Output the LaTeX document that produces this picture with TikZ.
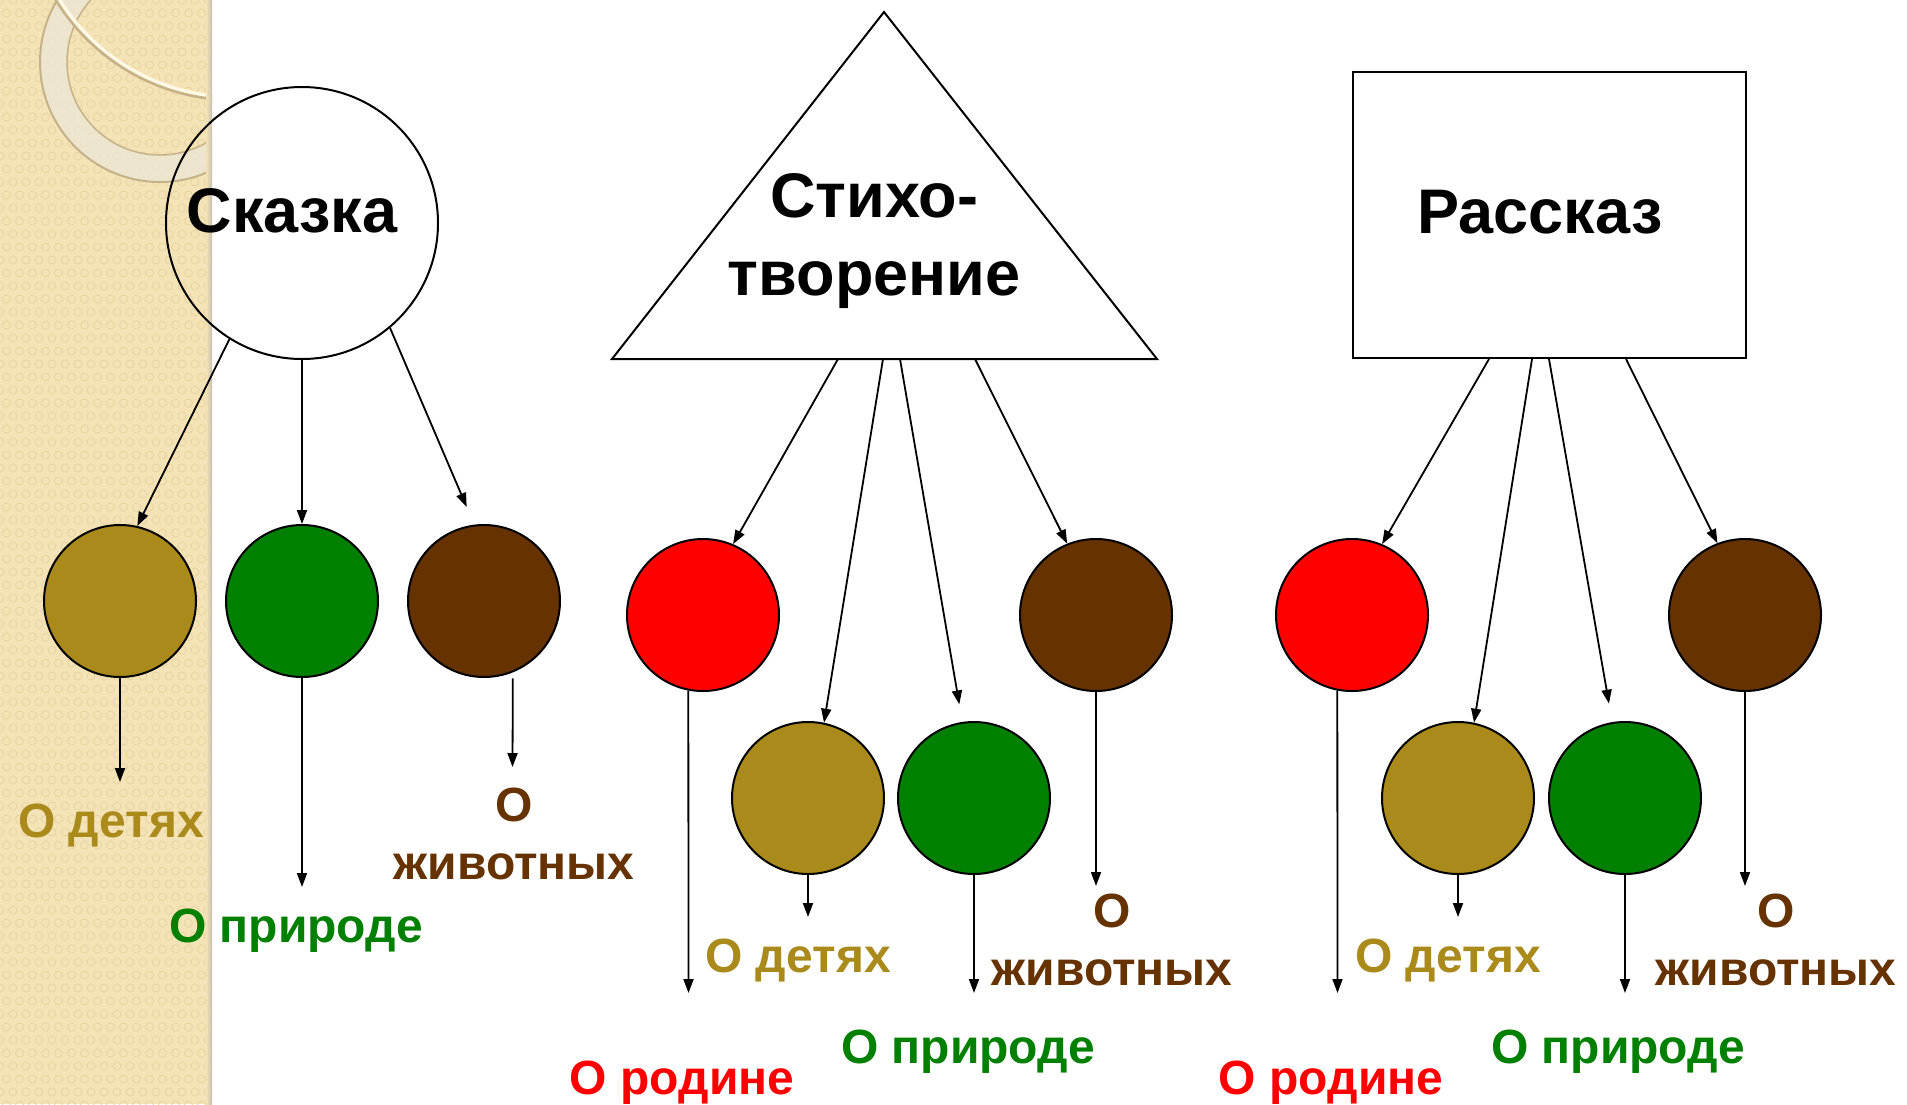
\documentclass[tikz,border=0pt]{standalone}
\usepackage{fontspec}
\setmainfont{Liberation Sans}
\usetikzlibrary{arrows.meta}
\definecolor{cOlive}{RGB}{170,138,26}
\definecolor{cGreen}{RGB}{0,128,0}
\definecolor{cBrown}{RGB}{102,51,0}
\definecolor{cRed}{RGB}{255,0,0}
\definecolor{cBand}{RGB}{244,227,182}
\definecolor{cPat}{RGB}{234,214,164}
\definecolor{cRing}{RGB}{236,231,216}
\definecolor{cRingEdge}{RGB}{198,178,136}
\definecolor{cArc}{RGB}{255,248,228}
\definecolor{cShadow}{RGB}{200,192,172}
\begin{document}
\begin{tikzpicture}[x=1pt,y=-1pt,
  title/.style={font=\fontsize{63}{78}\selectfont\bfseries, align=center, inner sep=0pt},
  lab/.style={font=\fontsize{48}{58}\selectfont\bfseries, align=center, inner sep=0pt},
  dot/.style={circle, draw=black, line width=2pt, minimum size=152pt, inner sep=0pt},
  shapeline/.style={draw=black, line width=2pt},
  arr/.style={line width=1.8pt, -{Triangle[length=14pt,width=10pt]}}]

\useasboundingbox (0,0) rectangle (1907,1104);
\fill[white] (0,0) rectangle (1907,1104);

% decorative left band
\begin{scope}
  \clip (0,0) rectangle (212,1104);
  \fill[cBand] (0,0) rectangle (212,1104);
  \foreach \i in {0,...,17} {
    \foreach \j in {0,...,86} {
      \pgfmathsetmacro{\xx}{\i*13+mod(\j,2)*6.5}
      \draw[cPat, line width=1pt] (\xx,\j*13) circle (4);
    }
  }
  \fill[cRing, opacity=0.75, even odd rule] (160,62) circle (120) (160,62) circle (93);
  \draw[cRingEdge, line width=2pt] (160,62) circle (120);
  \draw[cRingEdge, line width=1.5pt] (160,62) circle (93);
  \draw[cRingEdge, line width=5pt] (235,-110) circle (209);
  \draw[cArc, line width=3.5pt] (235,-110) circle (207);
  \shade[left color=cBand, right color=cShadow] (206,0) rectangle (212,1104);
\end{scope}

% main shapes
\node[circle, shapeline, minimum size=272pt, inner sep=0pt] (skazka) at (302,223) {};
\node[title, anchor=base] (skazkaT) at (292,232) {Сказка};

\coordinate (tA) at (884,12);
\coordinate (tL) at (612,359);
\coordinate (tR) at (1157,359);
\draw[shapeline] (tA) -- (tR) -- (tL) -- cycle;
\node[title, anchor=base] (stihT) at (874,295) {Стихо-\\творение};

\node[rectangle, shapeline, minimum width=393pt, minimum height=286pt, inner sep=0pt] (rasskaz) at (1549.5,215) {};
\node[title, anchor=base] (rasskazT) at (1540,233) {Рассказ};

% coloured circles
\node[dot, fill=cOlive] (o1) at (120,601) {};
\node[dot, fill=cGreen] (g1) at (302,601) {};
\node[dot, fill=cBrown] (b1) at (484,601) {};
\node[dot, fill=cRed] (r2) at (703,615) {};
\node[dot, fill=cOlive] (o2) at (808,798) {};
\node[dot, fill=cGreen] (g2) at (974,798) {};
\node[dot, fill=cBrown] (b2) at (1096,615) {};
\node[dot, fill=cRed] (r3) at (1352,615) {};
\node[dot, fill=cOlive] (o3) at (1458,798) {};
\node[dot, fill=cGreen] (g3) at (1625,798) {};
\node[dot, fill=cBrown] (b3) at (1745,615) {};

% labels (anchor=base is the baseline of the last line)
\node[lab, text=cOlive, anchor=base] (l1) at (111,837) {О детях};
\node[lab, text=cGreen, anchor=base] (l2) at (296,942) {О природе};
\node[lab, text=cBrown, anchor=base] (l3) at (514,879) {О\\животных};
\node[lab, text=cRed, anchor=base] (l4) at (682,1094) {О родине};
\node[lab, text=cOlive, anchor=base] (l5) at (798,972) {О детях};
\node[lab, text=cGreen, anchor=base] (l6) at (968,1063) {О природе};
\node[lab, text=cBrown, anchor=base] (l7) at (1112,985) {О\\животных};
\node[lab, text=cRed, anchor=base] (l8) at (1331,1094) {О родине};
\node[lab, text=cOlive, anchor=base] (l9) at (1448,972) {О детях};
\node[lab, text=cGreen, anchor=base] (l10) at (1618,1063) {О природе};
\node[lab, text=cBrown, anchor=base] (l11) at (1776,985) {О\\животных};

% free arrow ends
\coordinate (e1) at (120,782);
\coordinate (e2) at (302,887);
\coordinate (e3) at (512.5,767);
\coordinate (e4) at (688.5,993);
\coordinate (e5) at (808,917);
\coordinate (e6) at (974,993);
\coordinate (e7) at (1096,886);
\coordinate (e8) at (1337.5,993);
\coordinate (e9) at (1458,917);
\coordinate (e10) at (1625,993);
\coordinate (e11) at (1745,886);

\coordinate (t1) at (838,359);
\coordinate (t2) at (883,359);
\coordinate (t3) at (900,359);
\coordinate (t4) at (975,359);

% arrows from Сказка
\draw[arr] (skazka.238) -- (o1.77);
\draw[arr] (skazka.south) -- (g1.north);
\draw[arr] (skazka.310) -- ([yshift=19pt]b1.103);
% arrows from Стихотворение
\draw[arr] (t1) -- (r2.67);
\draw[arr] (t2) -- (o2.78);
\draw[arr] (t3) -- ([yshift=18pt]g2.101);
\draw[arr] (t4) -- (b2.112);
% arrows from Рассказ
\draw[arr] ([xshift=-60.5pt]rasskaz.south) -- (r3.67);
\draw[arr] ([xshift=-17.5pt]rasskaz.south) -- (o3.78);
\draw[arr] ([xshift=-0.5pt]rasskaz.south) -- ([yshift=19pt]g3.102);
\draw[arr] ([xshift=76.5pt]rasskaz.south) -- (b3.111);

% arrows down to labels
\draw[arr] (o1.south) -- (e1);
\draw[arr] (g1.south) -- (e2);
\draw[arr] ([yshift=-6pt]b1.292) -- (e3);
\draw[arr] (r2.259) -- (e4);
\draw[arr] (o2.south) -- (e5);
\draw[arr] (g2.south) -- (e6);
\draw[arr] (b2.south) -- (e7);
\draw[arr] (r3.259) -- (e8);
\draw[arr] (o3.south) -- (e9);
\draw[arr] (g3.south) -- (e10);
\draw[arr] (b3.south) -- (e11);
\end{tikzpicture}
\end{document}
